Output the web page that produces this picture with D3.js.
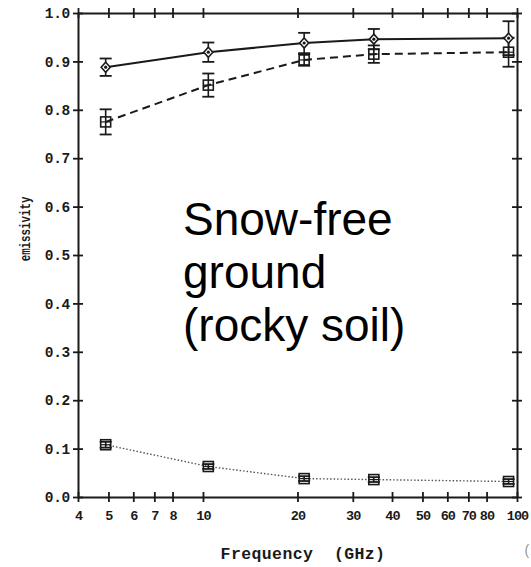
<!DOCTYPE html>
<html>
<head>
<meta charset="utf-8">
<script src="https://cdn.jsdelivr.net/npm/d3@7"></script>
<style>
  html, body { margin: 0; padding: 0; background: #ffffff; overflow: hidden; }
  svg { display: block; }
  .mono { font-family: "Liberation Mono", "DejaVu Sans Mono", monospace; font-weight: bold; fill: #1a1a1a; }
</style>
</head>
<body>
<svg id="chart" width="531" height="567"></svg>
<script>
// Measurement frequencies (GHz)
const frequencies = [4.9, 10.4, 21, 35, 94];

// Emissivity series with their error half-widths
const seriesSolid    = [0.888, 0.919, 0.938, 0.946, 0.948];
const errSolid       = [0.018, 0.020, 0.021, 0.021, 0.035];
const seriesDashed   = [0.775, 0.851, 0.903, 0.915, 0.919];
const errDashed      = [0.026, 0.024, 0.012, 0.018, 0.030];
const seriesDotted   = [0.108, 0.063, 0.038, 0.036, 0.032];
const errDotted      = [0.006, 0.005, 0.005, 0.005, 0.005];

// Axis ticks
const xTicks = [4, 5, 6, 7, 8, 10, 20, 30, 40, 50, 60, 70, 80, 100];
const yTicks = [0, 0.1, 0.2, 0.3, 0.4, 0.5, 0.6, 0.7, 0.8, 0.9, 1.0];

const annotationLines = ["Snow-free", "ground", "(rocky soil)"];

const svg = d3.select("#chart");
const ink = "#1a1a1a";

const x = d3.scaleLog().domain([4, 100]).range([78, 517]);
const y = d3.scaleLinear().domain([0, 1]).range([497, 13]);

// Axes: ticks cross the frame line on both sides
function crossTicks(g, horizontal, len) {
  g.select(".domain").attr("stroke", ink).attr("stroke-width", 2);
  g.selectAll(".tick line").attr("stroke", ink).attr("stroke-width", 1.8);
  if (horizontal) g.selectAll(".tick line").attr("y1", -len).attr("y2", len);
  else g.selectAll(".tick line").attr("x1", -len).attr("x2", len);
}

const gBottom = svg.append("g").attr("transform", `translate(0,${y(0)})`)
  .call(d3.axisBottom(x).tickValues(xTicks).tickFormat(d3.format("d")).tickSizeOuter(0));
crossTicks(gBottom, true, 5);
gBottom.selectAll(".tick text").attr("class", "mono").style("font-size", "13.5px")
  .attr("letter-spacing", -0.9).attr("y", 13).attr("dy", "0.71em");

const gTop = svg.append("g").attr("transform", `translate(0,${y(1)})`)
  .call(d3.axisTop(x).tickValues(xTicks).tickFormat("").tickSizeOuter(0));
crossTicks(gTop, true, 5);

const gLeft = svg.append("g").attr("transform", `translate(${x(4)},0)`)
  .call(d3.axisLeft(y).tickValues(yTicks).tickFormat(d3.format(".1f")).tickSizeOuter(0));
crossTicks(gLeft, false, 5);
gLeft.selectAll(".tick text").attr("class", "mono").style("font-size", "14.5px")
  .attr("letter-spacing", -0.3).attr("x", -8);

const gRight = svg.append("g").attr("transform", `translate(${x(100)},0)`)
  .call(d3.axisRight(y).tickValues(yTicks).tickFormat("").tickSizeOuter(0));
crossTicks(gRight, false, 5);

svg.selectAll(".domain").attr("fill", "none");

// Axis titles
svg.append("text").attr("class", "mono")
  .attr("transform", `translate(30,229) rotate(-90) scale(0.72,1)`)
  .attr("text-anchor", "middle").style("font-size", "15px")
  .text("emissivity");

svg.append("text").attr("class", "mono")
  .attr("x", 303).attr("y", 559).attr("text-anchor", "middle")
  .style("font-size", "16.5px").attr("letter-spacing", 0.4).attr("xml:space", "preserve")
  .text("Frequency  (GHz)");

// Edge of the neighbouring panel's label
svg.append("text").attr("x", 523).attr("y", 555)
  .attr("font-family", "Liberation Mono, monospace").attr("font-size", 14).attr("fill", "#9a9a9a")
  .text("(");

// Series lines
const line = d3.line().x(d => x(d[0])).y(d => y(d[1]));
function drawSeries(values, errs, opts) {
  const pts = frequencies.map((f, i) => [f, values[i], errs[i]]);
  svg.append("path").datum(pts).attr("d", line)
    .attr("fill", "none").attr("stroke", opts.color).attr("stroke-width", opts.width)
    .attr("stroke-dasharray", opts.dash);

  const g = svg.append("g");
  // error bars with caps
  const eb = g.selectAll(".eb").data(pts).join("g");
  eb.append("line").attr("x1", d => x(d[0])).attr("x2", d => x(d[0]))
    .attr("y1", d => y(d[1] + d[2])).attr("y2", d => y(d[1] - d[2]))
    .attr("stroke", ink).attr("stroke-width", 1.6);
  [1, -1].forEach(s => {
    eb.append("line").attr("x1", d => x(d[0]) - 6).attr("x2", d => x(d[0]) + 6)
      .attr("y1", d => y(d[1] + s * d[2])).attr("y2", d => y(d[1] + s * d[2]))
      .attr("stroke", ink).attr("stroke-width", 1.8);
  });
  // markers
  if (opts.marker === "diamond") {
    g.selectAll(".mk").data(pts).join("path")
      .attr("d", d => { const cx = x(d[0]), cy = y(d[1]);
        return `M${cx},${cy - 5}L${cx + 4.5},${cy}L${cx},${cy + 5}L${cx - 4.5},${cy}Z`; })
      .attr("fill", "#fff").attr("stroke", ink).attr("stroke-width", 1.6);
    g.selectAll(".dot").data(pts).join("circle")
      .attr("cx", d => x(d[0])).attr("cy", d => y(d[1])).attr("r", 1.6).attr("fill", ink);
  } else {
    g.selectAll(".mk").data(pts).join("rect")
      .attr("x", d => x(d[0]) - 5).attr("y", d => y(d[1]) - 5)
      .attr("width", 10).attr("height", 10)
      .attr("fill", "none").attr("stroke", ink).attr("stroke-width", 1.6);
    g.selectAll(".cross").data(pts).join("line")
      .attr("x1", d => x(d[0]) - 5).attr("x2", d => x(d[0]) + 5)
      .attr("y1", d => y(d[1])).attr("y2", d => y(d[1]))
      .attr("stroke", ink).attr("stroke-width", 1.2);
  }
}

drawSeries(seriesDotted, errDotted, { color: "#555", width: 1.4, dash: "1.5,2", marker: "square" });
drawSeries(seriesDashed, errDashed, { color: ink, width: 2, dash: "8,5", marker: "square" });
drawSeries(seriesSolid, errSolid, { color: ink, width: 2, dash: null, marker: "diamond" });

// Annotation
const note = svg.append("text").attr("font-family", "Liberation Sans, Arial, sans-serif")
  .attr("font-size", 46).attr("fill", "#000");
note.selectAll("tspan").data(annotationLines).join("tspan")
  .attr("x", 183).attr("y", (d, i) => 235 + i * 53).text(d => d);
</script>
</body>
</html>
